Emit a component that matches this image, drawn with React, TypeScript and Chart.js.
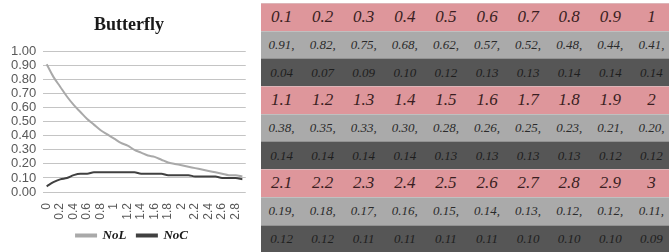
import React, { useEffect, useRef } from 'react';
import { Chart, registerables } from 'chart.js';
Chart.register(...registerables);

const xCategories = ['0','0.1','0.2','0.3','0.4','0.5','0.6','0.7','0.8','0.9','1','1.1','1.2','1.3','1.4','1.5','1.6','1.7','1.8','1.9','2','2.1','2.2','2.3','2.4','2.5','2.6','2.7','2.8','2.9'];
const tableX = ['0.1','0.2','0.3','0.4','0.5','0.6','0.7','0.8','0.9','1','1.1','1.2','1.3','1.4','1.5','1.6','1.7','1.8','1.9','2','2.1','2.2','2.3','2.4','2.5','2.6','2.7','2.8','2.9','3'];
const noL = [0.91,0.82,0.75,0.68,0.62,0.57,0.52,0.48,0.44,0.41,0.38,0.35,0.33,0.30,0.28,0.26,0.25,0.23,0.21,0.20,0.19,0.18,0.17,0.16,0.15,0.14,0.13,0.12,0.12,0.11];
const noC = [0.04,0.07,0.09,0.10,0.12,0.13,0.13,0.14,0.14,0.14,0.14,0.14,0.14,0.14,0.13,0.13,0.13,0.13,0.12,0.12,0.12,0.12,0.11,0.11,0.11,0.11,0.10,0.10,0.10,0.09];

const PINK = '#DE969B';
const LIGHT = '#AAAAAA';
const DARK = '#565656';

function Row({ cells, bg, size, color }: { cells: string[]; bg: string; size: number; color: string }) {
  return (
    <div style={{ display: 'flex', height: 27.7, background: bg, borderTop: '1px solid rgba(220,220,220,0.45)', boxSizing: 'border-box' }}>
      {cells.map((c, i) => (
        <div key={i} style={{ width: 41.1, flex: '0 0 41.1px', display: 'flex', alignItems: 'center', justifyContent: 'center', fontFamily: '"Liberation Serif", serif', fontStyle: 'italic', fontSize: size, color }}>
          {c}
        </div>
      ))}
    </div>
  );
}

const shiftPlugin = {
  id: 'shiftBlocks',
  afterLayout(chart: any) {
    if (chart.titleBlock) { chart.titleBlock.left += 4; chart.titleBlock.right += 4; }
    if (chart.legend) { chart.legend.left += 7; chart.legend.right += 7; }
  },
};

export default function App() {
  const ref = useRef<HTMLCanvasElement>(null);
  useEffect(() => {
    const chart = new Chart(ref.current!, {
      type: 'line',
      data: {
        labels: xCategories,
        datasets: [
          { label: 'NoL', data: noL, borderColor: '#A9A9A9', backgroundColor: '#A9A9A9', borderWidth: 2, pointRadius: 0, cubicInterpolationMode: 'monotone' },
          { label: 'NoC', data: noC, borderColor: '#404040', backgroundColor: '#404040', borderWidth: 2, pointRadius: 0, cubicInterpolationMode: 'monotone' },
        ],
      },
      plugins: [shiftPlugin],
      options: {
        animation: false,
        responsive: false,
        layout: { padding: { left: 4, right: 14, top: 0, bottom: 0 } },
        plugins: {
          title: { display: true, text: 'Butterfly', font: { family: '"Liberation Serif"', size: 18, weight: 'bold' }, color: '#1a1a1a', padding: { top: 15, bottom: 15 } },
          legend: {
            position: 'bottom',
            labels: {
              boxWidth: 20, boxHeight: 2, padding: 4,
              font: { family: '"Liberation Serif"', size: 13, style: 'italic', weight: 'bold' }, color: '#1a1a1a',
              generateLabels: (c: any) => {
                const items = (Chart.defaults.plugins.legend.labels as any).generateLabels(c);
                items.forEach((it: any, i: number) => { if (i < items.length - 1) it.text = it.text + '  '; });
                return items;
              },
            },
          },
          tooltip: { enabled: false },
        },
        scales: {
          x: {
            offset: true,
            grid: { display: false },
            border: { display: false },
            afterFit: (axis: any) => { axis.height = 33; },
            ticks: { autoSkip: false, maxRotation: 90, minRotation: 90, callback: (_v: any, i: number) => (i % 2 === 0 ? xCategories[i] : ''), font: { family: '"Liberation Sans"', size: 12 }, color: '#595959', padding: 3 },
          },
          y: {
            min: 0, max: 1,
            ticks: { autoSkip: false, stepSize: 0.1, callback: (v: any) => Number(v).toFixed(2), font: { family: '"Liberation Sans"', size: 13 }, color: '#595959', padding: 7 },
            grid: { color: '#c4c4c4', drawTicks: false },
            border: { display: false },
          },
        },
      },
    } as any);
    return () => chart.destroy();
  }, []);

  const groups = [0, 1, 2];
  return (
    <div style={{ position: 'fixed', left: 0, top: 0, width: 669, height: 252, background: '#fff', overflow: 'hidden' }}>
      <canvas ref={ref} width={260} height={252} style={{ position: 'absolute', left: 0, top: 0, display: 'block' }} />
      <div style={{ position: 'absolute', left: 261, top: 3, width: 411 }}>
        {groups.map((g) => (
          <React.Fragment key={g}>
            <Row cells={tableX.slice(g * 10, g * 10 + 10)} bg={PINK} size={17} color="#3a1e22" />
            <Row cells={noL.slice(g * 10, g * 10 + 10).map((v) => v.toFixed(2) + ',')} bg={LIGHT} size={13} color="#2a2a2a" />
            <Row cells={noC.slice(g * 10, g * 10 + 10).map((v) => v.toFixed(2))} bg={DARK} size={13} color="#1e1e1e" />
          </React.Fragment>
        ))}
      </div>
    </div>
  );
}
